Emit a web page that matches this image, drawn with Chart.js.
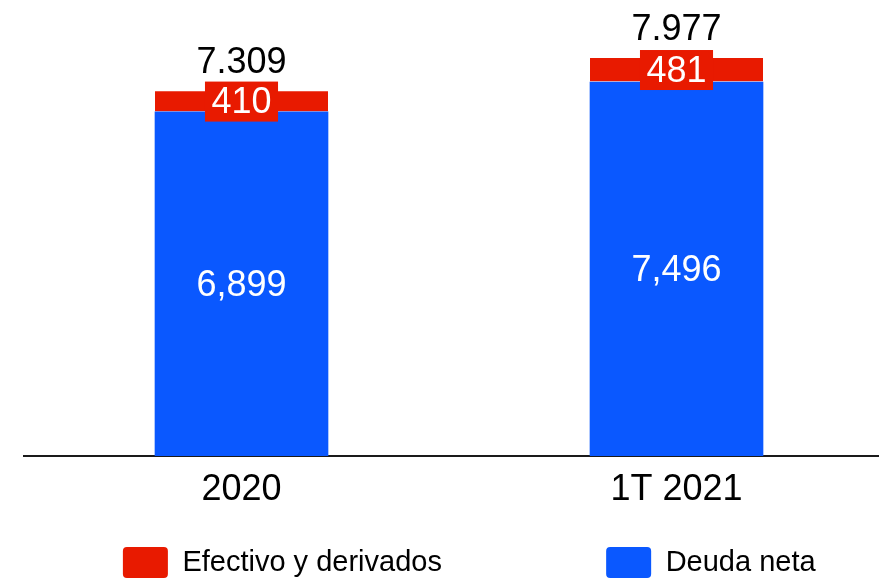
<!DOCTYPE html>
<html>
<head>
<meta charset="utf-8">
<script src="https://cdn.jsdelivr.net/npm/chart.js@4"></script>
<style>
  html, body { margin: 0; padding: 0; background: #ffffff; }
  #wrap { width: 879px; height: 579px; }
</style>
</head>
<body>
<div id="wrap"><canvas id="c" width="879" height="579"></canvas></div>
<script>
// ---- data ----
const categories = ['2020', '1T 2021'];
const deudaNeta = [6899, 7496];
const efectivo = [410, 481];
const deudaLabels = ['6,899', '7,496'];
const efectivoLabels = ['410', '481'];
const totalLabels = ['7.309', '7.977'];
const seriesNames = ['Deuda neta', 'Efectivo y derivados'];

// ---- style ----
const BLUE = '#0A58FF';
const RED = '#E81A00';
const FONT = '"Liberation Sans", Arial, Helvetica, sans-serif';

const labelPlugin = {
  id: 'barLabels',
  afterDatasetsDraw(chart) {
    const ctx = chart.ctx;
    const mBlue = chart.getDatasetMeta(0);
    const mRed = chart.getDatasetMeta(1);
    ctx.save();
    ctx.font = '36px ' + FONT;
    ctx.textAlign = 'center';
    ctx.textBaseline = 'middle';
    mBlue.data.forEach((bar, i) => {
      ctx.fillStyle = '#ffffff';
      ctx.fillText(deudaLabels[i], bar.x, (bar.y + bar.base) / 2 + 2);
    });
    mRed.data.forEach((bar, i) => {
      const cy = (bar.y + bar.base) / 2;
      const w = ctx.measureText(efectivoLabels[i]).width + 13;
      ctx.fillStyle = RED;
      ctx.fillRect(bar.x - w / 2, cy - 20, w, 40);
      ctx.fillStyle = '#ffffff';
      ctx.fillText(efectivoLabels[i], bar.x, cy + 2);
      ctx.fillStyle = '#000000';
      ctx.fillText(totalLabels[i], bar.x, bar.y - 28);
    });
    ctx.restore();
  }
};

const filler = (txt) => ({
  text: txt, fillStyle: 'rgba(0,0,0,0)', strokeStyle: 'rgba(0,0,0,0)',
  lineWidth: 0, hidden: false, datasetIndex: -1, fontColor: 'rgba(0,0,0,0)'
});

new Chart(document.getElementById('c'), {
  type: 'bar',
  data: {
    datasets: [
      {
        label: seriesNames[0],
        data: deudaNeta.map((v, i) => ({ x: i, y: v })),
        backgroundColor: BLUE,
        borderWidth: 0,
        barThickness: 173
      },
      {
        label: seriesNames[1],
        data: efectivo.map((v, i) => ({ x: i, y: v })),
        backgroundColor: RED,
        borderColor: '#ffffff',
        borderWidth: { top: 0, left: 0, right: 0, bottom: 1 },
        borderSkipped: false,
        barThickness: 173
      }
    ]
  },
  options: {
    responsive: false,
    animation: false,
    devicePixelRatio: 1,
    layout: { padding: 0 },
    scales: {
      x: {
        type: 'linear',
        stacked: true,
        offset: false,
        min: -0.5,
        max: 1.4655,
        z: 1,
        grid: { display: false, drawTicks: false, offset: false },
        border: { display: true, color: '#1a1a1a', width: 2 },
        afterBuildTicks(scale) { scale.ticks = categories.map((c, i) => ({ value: i })); },
        afterFit(scale) { scale.height = 91; },
        ticks: {
          padding: 12,
          autoSkip: false,
          maxRotation: 0,
          color: '#000000',
          font: { family: FONT, size: 36 },
          callback: (v) => categories[v]
        }
      },
      y: {
        stacked: true,
        min: 0,
        max: 9140,
        display: true,
        grid: { display: false, drawTicks: false },
        border: { display: false },
        ticks: { display: false },
        afterFit(scale) { scale.width = 24; }
      }
    },
    plugins: {
      tooltip: { enabled: false },
      legend: {
        position: 'bottom',
        maxHeight: 32,
        onClick: null,
        labels: {
          padding: 0,
          boxWidth: 45,
          boxHeight: 31,
          useBorderRadius: true,
          borderRadius: 4,
          color: '#000000',
          font: { family: FONT, size: 29 },
          generateLabels: () => [
            filler(''),
            { text: seriesNames[1], fillStyle: RED, strokeStyle: RED, fontColor: '#000000', lineWidth: 0, hidden: false, datasetIndex: 1, borderRadius: 4 },
            filler('             '),
            { text: seriesNames[0], fillStyle: BLUE, strokeStyle: BLUE, fontColor: '#000000', lineWidth: 0, hidden: false, datasetIndex: 0, borderRadius: 4 }
          ]
        }
      }
    }
  },
  plugins: [labelPlugin]
});
</script>
</body>
</html>
